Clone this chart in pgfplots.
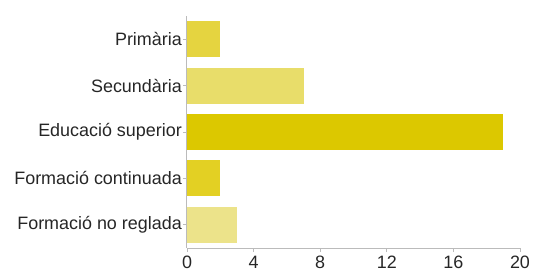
\documentclass[border=0pt]{standalone}
\usepackage{pgfplots}
\pgfplotsset{compat=1.18}
\usepackage{fontspec}
\setmainfont{Liberation Sans}
\definecolor{c1}{HTML}{E5D440}
\definecolor{c2}{HTML}{E8DD6A}
\definecolor{c3}{HTML}{DCC800}
\definecolor{c4}{HTML}{E3D023}
\definecolor{c5}{HTML}{ECE38A}
\definecolor{axg}{HTML}{BBBBBB}
\begin{document}
\begin{tikzpicture}
\useasboundingbox (-187bp,-23bp) rectangle (346bp,248bp);
\begin{axis}[
  at={(0,0)}, anchor=south west,
  scale only axis, width=333bp, height=232bp,
  xmin=0, xmax=20, ymin=-0.5, ymax=4.5, y dir=reverse,
  axis x line*=bottom, axis y line*=left,
  axis line style={axg, line width=1pt},
  tick style={axg, line width=0.8pt},
  tick align=outside, major tick length=4bp,
  xtick={0,4,...,20}, ytick={0,1,2,3,4},
  yticklabels={Primària,Secundària,Educació superior,Formació continuada,Formació no reglada},
  font=\fontsize{18}{21}\selectfont,
  ticklabel style={font=\fontsize{18}{21}\selectfont, text=black!85},
  yticklabel style={inner sep=1bp},
  xticklabel style={inner sep=4bp},
  /pgf/number format/assume math mode=true,
  xbar, bar width=36bp, bar shift=0pt,
]
\addplot[draw=none, fill=c1] coordinates {(2,0)};
\addplot[draw=none, fill=c2] coordinates {(7,1)};
\addplot[draw=none, fill=c3] coordinates {(19,2)};
\addplot[draw=none, fill=c4] coordinates {(2,3)};
\addplot[draw=none, fill=c5] coordinates {(3,4)};
\end{axis}
\end{tikzpicture}
\end{document}
